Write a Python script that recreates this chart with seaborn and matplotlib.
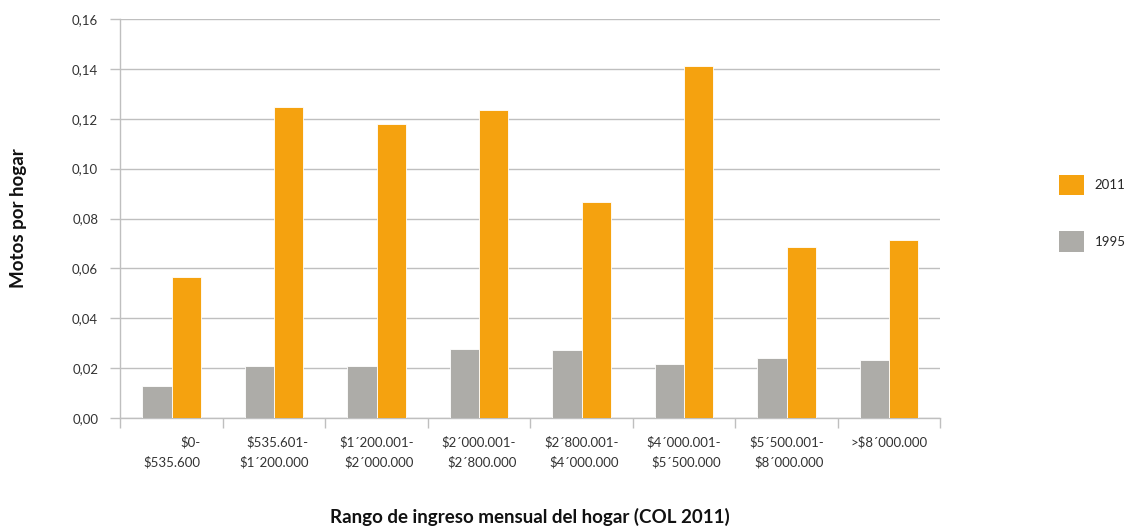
import matplotlib
matplotlib.use("Agg")
import matplotlib.pyplot as plt
import seaborn as sns
import pandas as pd
from matplotlib.patches import Patch
from matplotlib.ticker import FuncFormatter, FixedLocator

categories = ["$0-\n$535.600", "$535.601-\n$1´200.000", "$1´200.001-\n$2´000.000",
              "$2´000.001-\n$2´800.000", "$2´800.001-\n$4´000.000", "$4´000.001-\n$5´500.000",
              "$5´500.001-\n$8´000.000", ">$8´000.000"]
values_1995 = [0.0128, 0.0209, 0.0209, 0.0277, 0.0273, 0.0217, 0.0241, 0.0233]
values_2011 = [0.0565, 0.1247, 0.1179, 0.1235, 0.0868, 0.1411, 0.0686, 0.0714]
series = ["1995", "2011"]
y_ticks = [0.00, 0.02, 0.04, 0.06, 0.08, 0.10, 0.12, 0.14, 0.16]

df = pd.DataFrame({
    "cat": categories * 2,
    "serie": ["1995"] * len(categories) + ["2011"] * len(categories),
    "val": values_1995 + values_2011,
})

sns.set_theme(style="white")
plt.rcParams['font.family'] = ['Lato', 'DejaVu Sans']

colors = {"1995": "#ADACA8", "2011": "#F5A20F"}

fig = plt.figure(figsize=(11.33, 5.26), dpi=100)
ax = fig.add_axes([0.1063, 0.2053, 0.7236, 0.7586])

sns.barplot(data=df, x="cat", y="val", hue="serie", hue_order=series,
            palette=colors, saturation=1, width=0.57, ax=ax, legend=False,
            edgecolor="white", linewidth=0.6, zorder=3)

ax.set_ylim(0, 0.16)
ax.set_xlim(-0.5, len(categories) - 0.5)
ax.yaxis.set_major_locator(FixedLocator(y_ticks))
ax.yaxis.set_major_formatter(FuncFormatter(lambda v, p: f"{v:.2f}".replace(".", ",")))
ax.grid(axis="y", color="#BFBFBF", linewidth=1.0, zorder=0)
ax.set_axisbelow(True)

for s in ["top", "right"]:
    ax.spines[s].set_visible(False)
ax.spines["left"].set_color("#BFBFBF")
ax.spines["bottom"].set_color("#BFBFBF")
ax.spines["left"].set_linewidth(1.0)
ax.spines["bottom"].set_linewidth(1.0)

ax.tick_params(axis="y", which="major", left=True, length=7, width=1.0, color="#BFBFBF",
               labelsize=9.5, labelcolor="#333333", pad=9)
ax.set_xticks(range(len(categories)))
ax.set_xticklabels(categories, fontsize=9.5, color="#333333", multialignment="right",
                   linespacing=1.75)
ax.tick_params(axis="x", which="major", length=0, pad=13)
ax.set_xticks([i - 0.5 for i in range(len(categories) + 1)], minor=True)
ax.tick_params(axis="x", which="minor", bottom=True, length=7, width=1.0, color="#BFBFBF")

ax.set_xlabel("")
ax.set_ylabel("")
fig.text(0.0165, 0.585, "Motos por hogar", rotation=90, ha="center", va="center",
         fontsize=13.5, fontweight="bold", color="#111111")
fig.text(0.468, 0.0165, "Rango de ingreso mensual del hogar (COL 2011)", ha="center",
         va="center", fontsize=13.5, fontweight="bold", color="#111111")

handles = [Patch(facecolor=colors["2011"], edgecolor="none", label="2011"),
           Patch(facecolor=colors["1995"], edgecolor="none", label="1995")]
fig.legend(handles=handles, loc="center left", bbox_to_anchor=(0.9285, 0.595),
           frameon=False, fontsize=9.5, handlelength=1.95, handleheight=2.0,
           labelspacing=2.75, handletextpad=0.8, borderpad=0)

fig.savefig("out.png", dpi=100)
